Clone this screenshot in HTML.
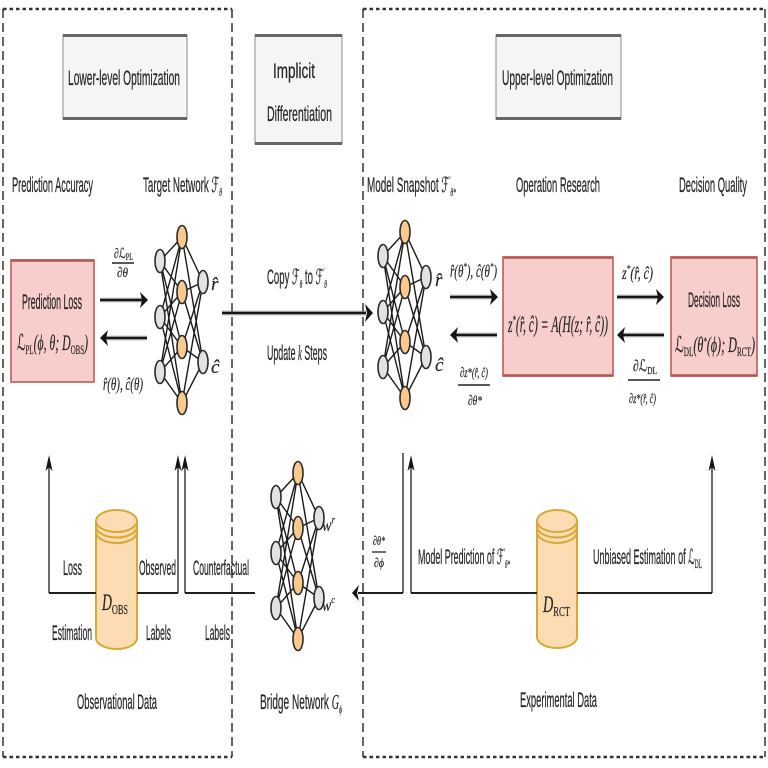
<!DOCTYPE html>
<html><head><meta charset="utf-8"><style>
html,body{margin:0;padding:0;background:#fff;}
svg{display:block;}
.t{font-family:"Liberation Sans",Arial,sans-serif;font-size:21px;fill:#262626;stroke:#262626;stroke-width:0.25;}
.m{font-family:"Liberation Serif","DejaVu Serif",serif;font-style:italic;fill:#262626;stroke:#262626;stroke-width:0.2;}
.s{font-family:"DejaVu Serif","DejaVu Sans","Liberation Serif",serif;font-style:normal;}
.up{font-style:normal;}
</style></head><body>
<svg width="768" height="768" viewBox="0 0 768 768" xmlns="http://www.w3.org/2000/svg">
<rect width="768" height="768" fill="#fff"/>
<defs>
<g id="nn">
 <g stroke="#1a1a1a" stroke-width="1.4">
  <line x1="-22" y1="24" x2="0" y2="0"/><line x1="-22" y1="24" x2="0" y2="55"/><line x1="-22" y1="24" x2="0" y2="110"/><line x1="-22" y1="24" x2="0" y2="166"/>
  <line x1="-22" y1="80" x2="0" y2="0"/><line x1="-22" y1="80" x2="0" y2="55"/><line x1="-22" y1="80" x2="0" y2="110"/><line x1="-22" y1="80" x2="0" y2="166"/>
  <line x1="-22" y1="135" x2="0" y2="0"/><line x1="-22" y1="135" x2="0" y2="55"/><line x1="-22" y1="135" x2="0" y2="110"/><line x1="-22" y1="135" x2="0" y2="166"/>
  <line x1="0" y1="0" x2="21" y2="45"/><line x1="0" y1="55" x2="21" y2="45"/><line x1="0" y1="110" x2="21" y2="45"/><line x1="0" y1="166" x2="21" y2="45"/>
  <line x1="0" y1="0" x2="21" y2="125"/><line x1="0" y1="55" x2="21" y2="125"/><line x1="0" y1="110" x2="21" y2="125"/><line x1="0" y1="166" x2="21" y2="125"/>
 </g>
 <g stroke="#2a2a2a" stroke-width="1.6">
  <ellipse cx="-22" cy="24" rx="5" ry="11.5" fill="#e2e2e2"/>
  <ellipse cx="-22" cy="80" rx="5" ry="11.5" fill="#e2e2e2"/>
  <ellipse cx="-22" cy="135" rx="5" ry="11.5" fill="#e2e2e2"/>
  <ellipse cx="0" cy="0" rx="5" ry="11.5" fill="#fbc88e"/>
  <ellipse cx="0" cy="55" rx="5" ry="11.5" fill="#fbc88e"/>
  <ellipse cx="0" cy="110" rx="5" ry="11.5" fill="#fbc88e"/>
  <ellipse cx="0" cy="166" rx="5" ry="11.5" fill="#fbc88e"/>
  <ellipse cx="21" cy="45" rx="5" ry="11.5" fill="#e2e2e2"/>
  <ellipse cx="21" cy="125" rx="5" ry="11.5" fill="#e2e2e2"/>
 </g>
</g>
</defs>

<!-- dashed group borders -->
<g stroke="#333" fill="none">
 <path d="M3 9 H232 M3 757 H232 M363 9 H765 M363 757 H765" stroke-width="2.5" stroke-dasharray="3.5 3"/>
 <path d="M3 9 V757 M232 9 V757 M363 9 V757 M765 9 V757" stroke-width="1.5" stroke-dasharray="9 5"/>
</g>

<!-- title boxes -->
<g>
 <rect x="63" y="35" width="124" height="84" fill="#f5f5f5" stroke="#8a8a8a" stroke-width="1"/>
 <path d="M63 35.5 H187 M63 118.5 H187" stroke="#666" stroke-width="3"/>
 <rect x="255" y="35" width="87" height="109" fill="#f5f5f5" stroke="#8a8a8a" stroke-width="1"/>
 <path d="M255 35.5 H342 M255 143.5 H342" stroke="#666" stroke-width="3"/>
 <rect x="496" y="35" width="125" height="84" fill="#f5f5f5" stroke="#8a8a8a" stroke-width="1"/>
 <path d="M496 35.5 H621 M496 118.5 H621" stroke="#666" stroke-width="3"/>
</g>
<text class="t" x="68" y="85" textLength="112" lengthAdjust="spacingAndGlyphs">Lower-level Optimization</text>
<text class="t" x="273" y="78" textLength="42" lengthAdjust="spacingAndGlyphs">Implicit</text>
<text class="t" x="267" y="121" textLength="65" lengthAdjust="spacingAndGlyphs">Differentiation</text>
<text class="t" x="502" y="85" textLength="111" lengthAdjust="spacingAndGlyphs">Upper-level Optimization</text>

<!-- column headers -->
<text class="t" x="12" y="192" textLength="81" lengthAdjust="spacingAndGlyphs">Prediction Accuracy</text>
<text class="t" x="143" y="192" textLength="79" lengthAdjust="spacingAndGlyphs">Target Network <tspan class="m s">ℱ</tspan><tspan class="m" font-size="12" dy="4">θ</tspan></text>
<text class="t" x="367" y="192" textLength="89" lengthAdjust="spacingAndGlyphs">Model Snapshot <tspan class="m s">ℱ</tspan><tspan class="m" font-size="12" dy="-8">′</tspan><tspan class="m" font-size="12" dy="12">θ*</tspan></text>
<text class="t" x="516" y="192" textLength="84" lengthAdjust="spacingAndGlyphs">Operation Research</text>
<text class="t" x="679" y="192" textLength="68" lengthAdjust="spacingAndGlyphs">Decision Quality</text>

<!-- pink boxes -->
<rect x="11" y="260" width="83" height="122" fill="#f8cecc" stroke="#b85450" stroke-width="1.5"/>
<path d="M11 260.5 H94" stroke="#b85450" stroke-width="2.5"/>
<rect x="503" y="257" width="110" height="119" fill="#f8cecc" stroke="#b85450" stroke-width="1.5"/>
<path d="M503 257.5 H613 M503 375.5 H613" stroke="#b85450" stroke-width="2.5"/>
<rect x="671" y="257" width="86" height="119" fill="#f8cecc" stroke="#b85450" stroke-width="1.5"/>
<path d="M671 257.5 H757 M671 375.5 H757" stroke="#b85450" stroke-width="2.5"/>

<text class="t" x="22" y="309" textLength="60" lengthAdjust="spacingAndGlyphs">Prediction Loss</text>
<text class="m" x="17" y="350" font-size="22" textLength="71" lengthAdjust="spacingAndGlyphs"><tspan class="s">ℒ</tspan><tspan class="up" font-size="13" dy="4">PL</tspan><tspan dy="-4">(ϕ, θ; D</tspan><tspan class="up" font-size="13" dy="4">OBS</tspan><tspan dy="-4">)</tspan></text>

<text class="m" x="508" y="332" font-size="23" textLength="100" lengthAdjust="spacingAndGlyphs">z<tspan font-size="13" dy="-8">*</tspan><tspan dy="8">(r̂, ĉ) = A(H(z; r̂, ĉ))</tspan></text>

<text class="t" x="688" y="307" textLength="52" lengthAdjust="spacingAndGlyphs">Decision Loss</text>
<text class="m" x="675" y="352" font-size="22" textLength="80" lengthAdjust="spacingAndGlyphs"><tspan class="s">ℒ</tspan><tspan class="up" font-size="13" dy="4">DL</tspan><tspan dy="-4">(θ</tspan><tspan font-size="12" dy="-7">*</tspan><tspan dy="7">(ϕ); D</tspan><tspan class="up" font-size="13" dy="4">RCT</tspan><tspan dy="-4">)</tspan></text>

<!-- neural networks -->
<use href="#nn" transform="translate(182,237)"/>
<use href="#nn" transform="translate(405,232)"/>
<use href="#nn" transform="translate(298,473)"/>

<text class="m" x="211" y="290" font-size="19">r̂</text>
<text class="m" x="211" y="373" font-size="19">ĉ</text>
<text class="m" x="435" y="286" font-size="19">r̂</text>
<text class="m" x="435" y="371" font-size="19">ĉ</text>
<text class="m" x="322" y="531" font-size="18" textLength="13" lengthAdjust="spacingAndGlyphs">w<tspan font-size="11" dy="-8">r</tspan></text>
<text class="m" x="322" y="611" font-size="18" textLength="13" lengthAdjust="spacingAndGlyphs">w<tspan font-size="11" dy="-8">c</tspan></text>

<!-- thick arrows -->
<g stroke-linecap="butt">
 <g stroke="#888" stroke-width="5" opacity="0.45">
  <path d="M100 300 H142 M106 338 H147 M222 313 H366 M450 297 H492 M456 335 H497 M617 297 H658 M623 335 H664"/>
 </g>
 <g stroke="#151515" stroke-width="2.6">
  <path d="M100 300 H142 M106 338 H147 M222 313 H366 M450 297 H492 M456 335 H497 M617 297 H658 M623 335 H664"/>
 </g>
 <g fill="#151515">
  <polygon points="148,300 140,292 142,300 140,308"/>
  <polygon points="100,338 108,330 106,338 108,346"/>
  <polygon points="373,313 365,304 367,313 365,322"/>
  <polygon points="498,297 490,289 492,297 490,305"/>
  <polygon points="450,335 458,327 456,335 458,343"/>
  <polygon points="664,297 656,289 658,297 656,305"/>
  <polygon points="617,335 625,327 623,335 625,343"/>
 </g>
</g>

<!-- arrow labels top -->
<text class="m" x="114" y="258" font-size="14" textLength="19" lengthAdjust="spacingAndGlyphs">∂<tspan class="s">ℒ</tspan><tspan class="up" font-size="9" dy="2">PL</tspan></text>
<path d="M112 263 H134" stroke="#222" stroke-width="1.4"/>
<text class="m" x="117" y="277" font-size="14" textLength="11" lengthAdjust="spacingAndGlyphs">∂θ</text>
<text class="m" x="103" y="390" font-size="18" textLength="40" lengthAdjust="spacingAndGlyphs">r̂(θ), ĉ(θ)</text>

<text class="t" x="267" y="284" textLength="60" lengthAdjust="spacingAndGlyphs">Copy <tspan class="m s">ℱ</tspan><tspan class="m" font-size="12" dy="4">θ</tspan><tspan dy="-4"> to </tspan><tspan class="m s">ℱ</tspan><tspan class="m" font-size="12" dy="-8">′</tspan><tspan class="m" font-size="12" dy="12">θ</tspan></text>
<text class="t" x="267" y="360" textLength="60" lengthAdjust="spacingAndGlyphs">Update <tspan class="m">k</tspan> Steps</text>

<text class="m" x="450" y="277" font-size="18" textLength="47" lengthAdjust="spacingAndGlyphs">r̂(θ<tspan font-size="11" dy="-7">*</tspan><tspan dy="7">), ĉ(θ</tspan><tspan font-size="11" dy="-7">*</tspan><tspan dy="7">)</tspan></text>
<text class="m" x="460" y="377" font-size="14" textLength="28" lengthAdjust="spacingAndGlyphs">∂z*(r̂, ĉ)</text>
<path d="M458 385 H490" stroke="#222" stroke-width="1.4"/>
<text class="m" x="468" y="405" font-size="14" textLength="14" lengthAdjust="spacingAndGlyphs">∂θ*</text>

<text class="m" x="622" y="279" font-size="18" textLength="31" lengthAdjust="spacingAndGlyphs">z<tspan font-size="11" dy="-7">*</tspan><tspan dy="7">(r̂, ĉ)</tspan></text>
<text class="m" x="633" y="371" font-size="16" textLength="24" lengthAdjust="spacingAndGlyphs">∂<tspan class="s">ℒ</tspan><tspan class="up" font-size="10" dy="3">DL</tspan></text>
<path d="M628 380 H660" stroke="#222" stroke-width="1.4"/>
<text class="m" x="629" y="403" font-size="14" textLength="27" lengthAdjust="spacingAndGlyphs">∂z*(r̂, ĉ)</text>

<!-- databases -->
<g stroke="#d7a934" stroke-width="2" fill="#fddcb3">
 <path d="M96 521 V638 A20.5 11 0 0 0 137 638 V521 Z"/>
 <ellipse cx="116.5" cy="521" rx="20.5" ry="11"/>
 <path d="M96 526.5 A20.5 11 0 0 0 137 526.5 M96 532 A20.5 11 0 0 0 137 532" fill="none"/>
 <path d="M537 521 V637 A20 11 0 0 0 577 637 V521 Z"/>
 <ellipse cx="557" cy="521" rx="20" ry="11"/>
 <path d="M537 526.5 A20 11 0 0 0 577 526.5 M537 532 A20 11 0 0 0 577 532" fill="none"/>
</g>
<text class="m" x="102" y="610" font-size="23" textLength="26" lengthAdjust="spacingAndGlyphs">D<tspan class="up" font-size="14" dy="4">OBS</tspan></text>
<text class="m" x="543" y="612" font-size="23" textLength="27" lengthAdjust="spacingAndGlyphs">D<tspan class="up" font-size="14" dy="4">RCT</tspan></text>

<!-- bottom thin arrows -->
<g stroke="#1e1e1e" fill="none">
 <path d="M96 593 H49 M137 593 H178 M255 593 H185 M403 593 H358 M537 593 H411 M577 593 H712" stroke-width="2"/>
 <path d="M49 593 V466 M178 593 V466 M185 593 V466 M403 453 V593 M411 593 V466 M712 593 V466" stroke-width="1.3"/>
</g>
<g fill="#151515">
 <polygon points="49,455 45.5,471 49,467 52.5,471"/>
 <polygon points="178,455 174.5,471 178,467 181.5,471"/>
 <polygon points="185,455 181.5,471 185,467 188.5,471"/>
 <polygon points="411,455 407.5,471 411,467 414.5,471"/>
 <polygon points="712,455 708.5,471 712,467 715.5,471"/>
 <polygon points="352,593 359,585 357,593 359,601"/>
</g>

<text class="t" x="63" y="575" textLength="19" lengthAdjust="spacingAndGlyphs">Loss</text>
<text class="t" x="52" y="640" textLength="40" lengthAdjust="spacingAndGlyphs">Estimation</text>
<text class="t" x="139" y="575" textLength="37" lengthAdjust="spacingAndGlyphs">Observed</text>
<text class="t" x="146" y="640" textLength="25" lengthAdjust="spacingAndGlyphs">Labels</text>
<text class="t" x="193" y="575" textLength="56" lengthAdjust="spacingAndGlyphs">Counterfactual</text>
<text class="t" x="205" y="640" textLength="25" lengthAdjust="spacingAndGlyphs">Labels</text>
<text class="t" x="77" y="709" textLength="80" lengthAdjust="spacingAndGlyphs">Observational Data</text>
<text class="t" x="260" y="709" textLength="82" lengthAdjust="spacingAndGlyphs">Bridge Network <tspan class="m">G</tspan><tspan class="m" font-size="12" dy="4">ϕ</tspan></text>

<text class="m" x="373" y="545" font-size="13" textLength="12" lengthAdjust="spacingAndGlyphs">∂θ*</text>
<path d="M372 552 H386" stroke="#222" stroke-width="1.3"/>
<text class="m" x="374" y="567" font-size="13" textLength="10" lengthAdjust="spacingAndGlyphs">∂ϕ</text>

<text class="t" x="418" y="564" textLength="92" lengthAdjust="spacingAndGlyphs">Model Prediction of <tspan class="m s">ℱ</tspan><tspan class="m" font-size="12" dy="-8">′</tspan><tspan class="m" font-size="12" dy="12">θ*</tspan></text>
<text class="t" x="593" y="564" textLength="109" lengthAdjust="spacingAndGlyphs">Unbiased Estimation of <tspan class="m s">ℒ</tspan><tspan class="m up" font-size="13" dy="4">DL</tspan></text>
<text class="t" x="520" y="707" textLength="77" lengthAdjust="spacingAndGlyphs">Experimental Data</text>
</svg>
</body></html>
